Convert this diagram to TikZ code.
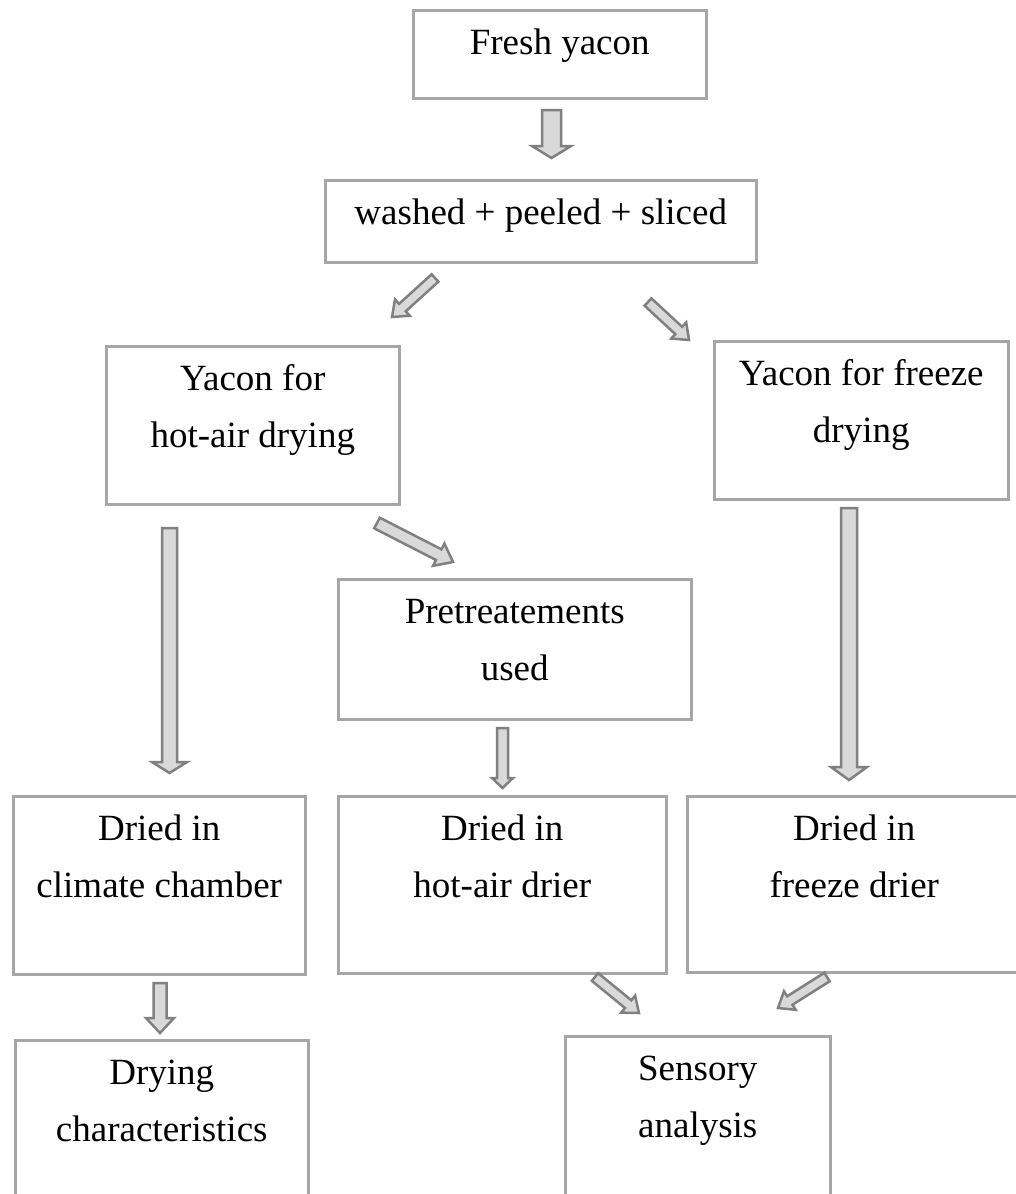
\documentclass[tikz,border=0pt]{standalone}
\usepackage{fontspec}
\setmainfont{Liberation Serif}
\usetikzlibrary{calc}
\usetikzlibrary{positioning}

\definecolor{boxline}{gray}{0.65}
\definecolor{arrline}{gray}{0.5}
\definecolor{arrfill}{gray}{0.85}

\tikzset{
  box/.style={draw=boxline, line width=2.5pt, rectangle, inner sep=0pt, anchor=north west},
  txt/.style={font=\fontsize{37}{57}\selectfont, align=center, inner sep=0pt, anchor=base},
  barrow/.style={draw=arrline, fill=arrfill, line width=2.5pt, line join=miter}
}

% block arrow: tail, tip, half shaft, half head, head length
\newcommand{\blockarrow}[5]{%
  \path let \p1=($(#2)-(#1)$) in \pgfextra{%
    \pgfmathsetmacro\barang{atan2(\y1,\x1)}\global\let\barang\barang
    \pgfmathsetmacro\barlen{veclen(\x1,\y1)}\global\let\barlen\barlen};
  \draw[barrow, shift={(#1)}, rotate=\barang]
    (0,-#3) -- (\barlen-#5,-#3) -- (\barlen-#5,-#4) -- (\barlen,0)
    -- (\barlen-#5,#4) -- (\barlen-#5,#3) -- (0,#3) -- cycle;
}

\begin{document}
\begin{tikzpicture}[x=1pt, y=-1pt]
\useasboundingbox (0,0) rectangle (1015,1194);

% boxes
\node[box, minimum width=293, minimum height=88] (fresh) at (412,9) {};
\node[box, minimum width=431, minimum height=82] (wash) at (324,179) {};
\node[box, minimum width=293, minimum height=158] (hotair) at (105,345) {};
\node[box, minimum width=294, minimum height=158] (freeze) at (713,340) {};
\node[box, minimum width=353, minimum height=140] (pretreat) at (337,578) {};
\node[box, minimum width=292, minimum height=178] (dclimate) at (12,795) {};
\node[box, minimum width=328, minimum height=177] (dhotair) at (337,795) {};
\node[box, minimum width=334, minimum height=176] (dfreeze) at (686,795) {};
\node[box, minimum width=293, minimum height=171] (charact) at (14,1039) {};
\node[box, minimum width=265, minimum height=175] (sensory) at (564,1035) {};

% texts (base = last line)
\def\tb{45}
\def\tbb{102}
\node[txt] (tfresh) at ([yshift=-\tb]fresh.north) {Fresh yacon};
\node[txt] (twash) at ([yshift=-\tb]wash.north) {washed + peeled + sliced};
\node[txt] (thotair) at ([yshift=-\tbb]hotair.north) {Yacon for\\hot-air drying};
\node[txt] (tfreeze) at ([yshift=-\tbb]freeze.north) {Yacon for freeze\\drying};
\node[txt] (tpre) at ([yshift=-\tbb]pretreat.north) {Pretreatements\\used};
\node[txt] (tdclim) at ([yshift=-\tbb]dclimate.north) {Dried in\\climate chamber};
\node[txt] (tdhot) at ([yshift=-\tbb]dhotair.north) {Dried in\\hot-air drier};
\node[txt] (tdfrz) at ([yshift=-\tbb]dfreeze.north) {Dried in\\freeze drier};
\node[txt] (tchar) at ([yshift=-\tbb]charact.north) {Drying\\characteristics};
\node[txt] (tsens) at ([yshift=-\tbb]sensory.north) {Sensory\\analysis};

% arrow ends
\coordinate (a1s) at (551.5,110); \coordinate (a1e) at (551.5,158);
\coordinate (a2s) at (435,278);   \coordinate (a2e) at (392,317);
\coordinate (a3s) at (648,302);   \coordinate (a3e) at (689,340);
\coordinate (a4s) at (377,523);   \coordinate (a4e) at (453,562);
\coordinate (a5s) at (169.5,528); \coordinate (a5e) at (169.5,773);
\coordinate (a6s) at (849,508);   \coordinate (a6e) at (849,780);
\coordinate (a7s) at (502.5,728); \coordinate (a7e) at (502.5,788);
\coordinate (a8s) at (160,983);   \coordinate (a8e) at (160,1033);
\coordinate (a9s) at (595,977);   \coordinate (a9e) at (639,1013);
\coordinate (a10s) at (827,977);  \coordinate (a10e) at (778,1008);

\blockarrow{a1s}{a1e}{9.5}{19.5}{12}
\blockarrow{a2s}{a2e}{5}{11}{14}
\blockarrow{a3s}{a3e}{5}{11}{14}
\blockarrow{a4s}{a4e}{6}{12.5}{16}
\blockarrow{a5s}{a5e}{7.5}{17.5}{11}
\blockarrow{a6s}{a6e}{8}{18}{13}
\blockarrow{a7s}{a7e}{5.5}{10.5}{10}
\blockarrow{a8s}{a8e}{6.5}{14}{15}
\blockarrow{a9s}{a9e}{5}{11}{14}
\blockarrow{a10s}{a10e}{5}{11}{14}

\end{tikzpicture}
\end{document}
